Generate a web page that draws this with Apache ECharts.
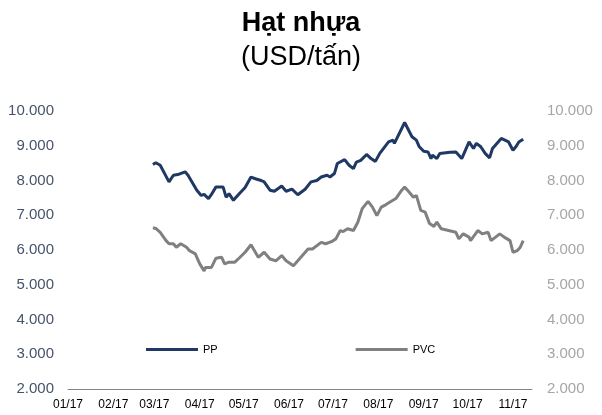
<!DOCTYPE html>
<html>
<head>
<meta charset="utf-8">
<script src="https://cdn.jsdelivr.net/npm/echarts@6/dist/echarts.min.js"></script>
<style>
	html, body { margin: 0; padding: 0; background: #fff; }
	#main { width: 602px; height: 415px; }
</style>
</head>
<body>
<div id="main"></div>
<script>
	// day offsets are counted from 01/01/2017
	var startDate = '2017-01-01';
	var dayCount = 318;
	var monthLabels = ['01/17', '02/17', '03/17', '04/17', '05/17', '06/17', '07/17', '08/17', '09/17', '10/17', '11/17'];

	var ppDays = [58, 60, 63, 69, 72, 75, 80, 82, 88, 91, 93, 96, 98, 101, 106, 108, 110, 113, 117, 121,
		125, 128, 132, 134, 138, 141, 146, 149, 153, 157, 162, 166, 170, 173, 177, 179, 182, 184, 189, 192,
		195, 197, 200, 204, 207, 210, 213, 219, 222, 223, 230, 235, 238, 240, 243, 246, 248, 249, 252, 254,
		261, 265, 269, 272, 274, 277, 279, 282, 285, 288, 290, 296, 301, 304, 306, 308, 311];
	var ppValues = [8460, 8510, 8440, 7960, 8150, 8170, 8250, 8150, 7720, 7570, 7600, 7480, 7600, 7810, 7810, 7520, 7620, 7430, 7620, 7800,
		8100, 8050, 8000, 7960, 7720, 7690, 7840, 7690, 7750, 7590, 7750, 7960, 8000, 8100, 8150, 8100, 8200, 8490, 8600, 8440,
		8340, 8530, 8580, 8750, 8630, 8550, 8780, 9110, 9160, 9070, 9670, 9260, 9160, 8970, 8840, 8820, 8630, 8730, 8630, 8780,
		8810, 8820, 8630, 8920, 9110, 8920, 9070, 8970, 8780, 8650, 8920, 9210, 9110, 8870, 8970, 9110, 9190];

	var pvcDays = [58, 60, 63, 67, 69, 72, 74, 77, 81, 83, 87, 90, 93, 94, 98, 101, 105, 107, 110, 114,
		117, 121, 125, 130, 134, 138, 142, 146, 149, 154, 157, 164, 167, 173, 176, 180, 183, 186, 188, 191,
		195, 198, 201, 205, 208, 211, 214, 217, 220, 222, 224, 228, 230, 232, 236, 238, 241, 244, 247, 250,
		252, 255, 265, 267, 270, 274, 275, 280, 283, 287, 289, 295, 298, 302, 304, 307, 309, 311];
	var pvcValues = [6640, 6620, 6510, 6270, 6180, 6180, 6080, 6180, 6080, 5980, 5890, 5600, 5400, 5500, 5500, 5760, 5790, 5600, 5650, 5650,
		5770, 5935, 6150, 5790, 5935, 5740, 5690, 5840, 5690, 5550, 5690, 6030, 6030, 6220, 6180, 6240, 6320, 6560, 6530, 6610,
		6560, 6800, 7190, 7400, 7235, 6990, 7235, 7300, 7380, 7430, 7480, 7720, 7810, 7720, 7520, 7570, 7140, 7090, 6760, 6680,
		6800, 6610, 6510, 6320, 6465, 6370, 6270, 6560, 6465, 6510, 6270, 6465, 6370, 6270, 5935, 5983, 6080, 6270];

	var categories = [];
	var monthStarts = {};
	var d0 = new Date(startDate + 'T00:00:00Z');
	for (var i = 0; i < dayCount; i++) {
		var d = new Date(d0.getTime() + i * 86400000);
		categories.push(d.toISOString().slice(0, 10));
		if (d.getUTCDate() === 1) {
			monthStarts[i] = monthLabels[d.getUTCMonth()];
		}
	}

	function pairs(days, values) {
		var out = [];
		for (var i = 0; i < days.length; i++) {
			out.push([days[i], values[i]]);
		}
		return out;
	}

	function fmtThousand(v) {
		return String(v).replace(/\B(?=(\d{3})+(?!\d))/g, '.');
	}

	var font = '"Liberation Sans", Arial, sans-serif';
	var chart = echarts.init(document.getElementById('main'));

	chart.setOption({
		animation: false,
		title: [{
			text: 'Hạt nhựa',
			left: 'center',
			top: 5,
			textStyle: { fontFamily: font, fontSize: 27, fontWeight: 'bold', color: '#000' }
		}, {
			text: '(USD/tấn)',
			left: 'center',
			top: 39,
			textStyle: { fontFamily: font, fontSize: 27, fontWeight: 'normal', color: '#000' }
		}],
		legend: {
			left: 141,
			top: 339,
			itemWidth: 52,
			itemHeight: 3,
			itemGap: 138,
			icon: 'rect',
			textStyle: { fontFamily: font, fontSize: 11, color: '#000' },
			data: ['PP', 'PVC']
		},
		grid: {
			left: 68,
			right: 70,
			top: 111,
			bottom: 26
		},
		xAxis: {
			type: 'category',
			data: categories,
			boundaryGap: false,
			axisLine: { lineStyle: { color: '#868686', width: 1 } },
			axisTick: { show: false },
			axisLabel: {
				interval: function(index) {
					return monthStarts.hasOwnProperty(index);
				},
				formatter: function(value, index) {
					return monthStarts[index] || '';
				},
				margin: 10,
				fontFamily: font,
				fontSize: 12,
				color: '#000'
			},
			splitLine: { show: false }
		},
		yAxis: [{
			type: 'value',
			min: 2000,
			max: 10000,
			interval: 1000,
			position: 'left',
			axisLine: { show: false },
			axisTick: { show: false },
			splitLine: { show: false },
			axisLabel: {
				formatter: fmtThousand,
				margin: 14,
				fontFamily: font,
				fontSize: 15,
				color: '#44546A'
			}
		}, {
			type: 'value',
			min: 2000,
			max: 10000,
			interval: 1000,
			position: 'right',
			axisLine: { show: false },
			axisTick: { show: false },
			splitLine: { show: false },
			axisLabel: {
				formatter: fmtThousand,
				margin: 15,
				fontFamily: font,
				fontSize: 15,
				color: '#A6A6A6'
			}
		}],
		series: [{
			name: 'PP',
			type: 'line',
			yAxisIndex: 0,
			data: pairs(ppDays, ppValues),
			showSymbol: false,
			symbol: 'none',
			lineStyle: { color: '#203864', width: 3 },
			itemStyle: { color: '#203864' }
		}, {
			name: 'PVC',
			type: 'line',
			yAxisIndex: 0,
			data: pairs(pvcDays, pvcValues),
			showSymbol: false,
			symbol: 'none',
			lineStyle: { color: '#808080', width: 3 },
			itemStyle: { color: '#808080' }
		}]
	});
</script>
</body>
</html>
